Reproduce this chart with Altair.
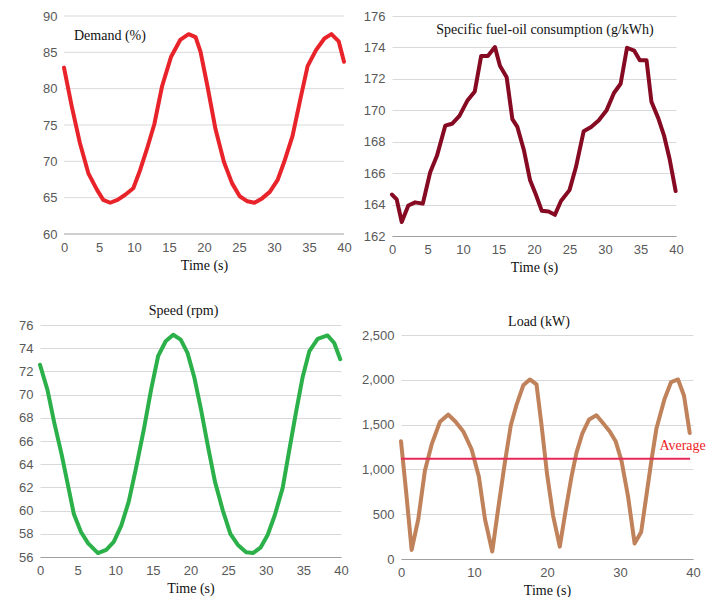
import altair as alt
import pandas as pd

# ---------------- data ----------------
demand_t = [0, 1.1, 2.25, 3.5, 4.7, 5.6, 6.6, 7.65, 8.75, 9.9, 10.8, 11.85, 12.9, 14, 15.3,
            16.6, 17.8, 18.8, 19.5, 20.5, 21.65, 22.85, 24, 25.1, 26.2, 27.2, 28.3, 29.4,
            30.5, 31.45, 32.65, 33.75, 34.8, 36, 37.2, 38.2, 39.25, 40]
demand_v = [82.9, 77.6, 72.6, 68.3, 66.1, 64.7, 64.3, 64.7, 65.4, 66.3, 68.6, 71.7, 75.1,
            80.3, 84.4, 86.7, 87.5, 87.1, 85.1, 80.3, 74.4, 69.9, 67.0, 65.2, 64.5, 64.3,
            64.9, 65.8, 67.4, 69.9, 73.5, 78.5, 83.1, 85.3, 86.9, 87.5, 86.5, 83.7]

sfoc_t = [0, 0.66, 1.37, 2.3, 3.26, 4.34, 5.38, 6.33, 7.5, 8.45, 9.5, 10.6, 11.66, 12.56,
          13.5, 14.5, 15.2, 16.15, 16.95, 17.66, 18.6, 19.45, 20.26, 21.1, 22.05, 22.95,
          23.8, 25, 25.9, 27, 28.05, 29.1, 30.2, 31.26, 32.2, 33.1, 34.1, 34.9, 35.85,
          36.54, 37.5, 38.34, 39.1, 39.95]
sfoc_v = [164.64, 164.33, 162.89, 163.94, 164.14, 164.06, 166.06, 167.1, 169.02, 169.14,
          169.64, 170.6, 171.2, 173.46, 173.46, 174.02, 172.83, 172.1, 169.44, 168.94,
          167.42, 165.54, 164.64, 163.6, 163.56, 163.35, 164.23, 164.92, 166.37, 168.67,
          168.94, 169.35, 169.98, 171.1, 171.69, 173.98, 173.8, 173.19, 173.19, 170.54,
          169.5, 168.35, 166.9, 164.86]

speed_t = [0, 1.0, 1.9, 2.9, 3.7, 4.5, 5.45, 6.4, 7.7, 8.8, 9.8, 10.8, 11.8, 12.75, 13.8,
           14.75, 15.7, 16.7, 17.7, 18.7, 19.6, 20.5, 21.4, 22.3, 23.25, 24.3, 25.3, 26.3,
           27.4, 28.3, 29.3, 30.25, 31.2, 32.25, 33.15, 34.0, 34.9, 35.8, 36.9, 38.2, 39.1,
           39.9]
speed_v = [72.57, 70.38, 67.57, 64.76, 62.24, 59.7, 58.16, 57.18, 56.34, 56.62, 57.3, 58.7,
           60.8, 63.64, 67.0, 70.38, 73.33, 74.6, 75.16, 74.74, 73.6, 71.5, 68.7, 65.6, 62.5,
           60.0, 58.0, 57.04, 56.4, 56.34, 56.8, 57.9, 59.6, 61.96, 65.3, 68.4, 71.5, 73.75,
           74.8, 75.1, 74.45, 73.05]

load_t = [0, 0.7, 1.46, 2.37, 3.28, 4.2, 5.34, 6.48, 7.48, 8.53, 9.67, 10.67, 11.5, 12.5,
          13.3, 14.2, 15.05, 15.8, 16.75, 17.65, 18.56, 19.25, 20.0, 20.84, 21.75, 22.58,
          23.35, 24.04, 24.86, 25.77, 26.77, 27.69, 28.6, 29.4, 30.2, 31.1, 32.0, 32.9,
          33.6, 34.3, 35.0, 36.1, 37.0, 37.95, 38.77, 39.55]
load_v = [1315, 750, 101, 446, 989, 1279, 1532, 1612, 1532, 1424, 1225, 917, 446, 83, 554,
          1062, 1496, 1714, 1938, 2004, 1949, 1496, 953, 482, 138, 554, 917, 1188, 1406,
          1558, 1605, 1514, 1424, 1315, 1098, 699, 174, 301, 699, 1098, 1460, 1786, 1975,
          2004, 1822, 1406]

load_average = 1120
average_span = [0, 39.6]
average_label_x = 35.4

x_ticks = [0, 5, 10, 15, 20, 25, 30, 35, 40]
demand_ticks = [60, 65, 70, 75, 80, 85, 90]
sfoc_ticks = [162, 164, 166, 168, 170, 172, 174, 176]
speed_ticks = [56, 58, 60, 62, 64, 66, 68, 70, 72, 74, 76]
load_ticks = [0, 500, 1000, 1500, 2000, 2500]

SERIF = "Liberation Serif"
SANS = "Liberation Sans"
GRID = "#D9D9D9"
BASE = "#A0A0A0"

# layout constants (pixels)
P1_W, P1_H, P1_SHIFT = 280, 218, 24   # panel 1 sits 24px further right than panel 3
P2_W, P2_H = 284, 220
P3_W, P3_H = 301, 232
P4_W, P4_H, P4_TOP_GAP = 292, 234, 10  # plot box starts 10px above the 2,500 gridline

X_LABEL_PAD, X_TITLE_PAD = 7, 4


def x_axis(**kw):
    return alt.Axis(values=x_ticks, title="Time (s)", grid=False, ticks=False,
                    labelPadding=X_LABEL_PAD, labelFlush=False,
                    titlePadding=X_TITLE_PAD, **kw)


def base_line(t, v, color, ydom, yticks, yfmt=None):
    df = pd.DataFrame({"t": t, "v": v})
    yaxis_kw = dict(values=yticks, title=None, grid=True, ticks=False, domain=False,
                    labelPadding=7)
    if yfmt:
        yaxis_kw["format"] = yfmt
    return alt.Chart(df).mark_line(color=color, strokeWidth=4, strokeJoin="round",
                                   strokeCap="round").encode(
        x=alt.X("t:Q", scale=alt.Scale(domain=[0, 40], nice=False),
                axis=x_axis(domain=True, domainColor=BASE)),
        y=alt.Y("v:Q", scale=alt.Scale(domain=ydom, nice=False, zero=False),
                axis=alt.Axis(**yaxis_kw)),
    )


def label_text(text, x, y, align="center", color="#111111"):
    return alt.Chart(pd.DataFrame({"s": [text]})).mark_text(
        font=SERIF, fontSize=14, color=color, align=align, baseline="middle"
    ).encode(text="s:N", x=alt.value(x), y=alt.value(y))


# Panel 1: Demand. Its plot box starts at panel 3's left edge; the time scale is
# widened on the left so t=0 lands P1_SHIFT px inside, and its gridlines are drawn
# from t=0 to t=40 only.
x_lo = -40 * P1_SHIFT / P1_W
x1_scale = alt.Scale(domain=[x_lo, 40], nice=False)
y1_scale = alt.Scale(domain=[60, 90], nice=False, zero=False)
x1_axis = x_axis(domain=False, titleX=P1_SHIFT + P1_W / 2)
y1_axis = alt.Axis(values=demand_ticks, title=None, grid=False, ticks=False,
                   domain=False, labelPadding=7, offset=-P1_SHIFT)

p1_df = pd.DataFrame({"t": demand_t, "v": demand_v})
grid1_df = pd.DataFrame({
    "t": [0] * len(demand_ticks),
    "t_end": [40] * len(demand_ticks),
    "v": demand_ticks,
    "c": [BASE] + [GRID] * (len(demand_ticks) - 1),
})
p1_grid = alt.Chart(grid1_df).mark_rule(strokeWidth=1).encode(
    x=alt.X("t:Q", scale=x1_scale, axis=x1_axis), x2="t_end:Q",
    y=alt.Y("v:Q", scale=y1_scale, axis=y1_axis),
    color=alt.Color("c:N", scale=None))
p1_line = alt.Chart(p1_df).mark_line(color="#E8232A", strokeWidth=4, strokeJoin="round",
                                     strokeCap="round").encode(
    x=alt.X("t:Q", scale=x1_scale, axis=x1_axis),
    y=alt.Y("v:Q", scale=y1_scale, axis=y1_axis),
)
p1 = alt.layer(p1_grid, p1_line,
               label_text("Demand (%)", P1_SHIFT + 10, 20, align="left")
               ).properties(width=P1_W + P1_SHIFT, height=P1_H)

# Panel 2: SFOC
p2_line = base_line(sfoc_t, sfoc_v, "#850A22", [162, 176], sfoc_ticks)
p2 = alt.layer(p2_line, label_text("Specific fuel-oil consumption (g/kWh)", 153, 14)
               ).properties(width=P2_W, height=P2_H)

# Panel 3: Speed
p3_line = base_line(speed_t, speed_v, "#2BB04A", [56, 76], speed_ticks)
p3 = alt.layer(p3_line).properties(
    width=P3_W, height=P3_H,
    title=alt.TitleParams("Speed (rpm)", font=SERIF, fontSize=14, fontWeight="normal",
                          color="#111111", anchor="middle", frame="group", dx=-7,
                          offset=1))

# Panel 4: Load
load_top = 2500 * P4_H / (P4_H - P4_TOP_GAP)
p4_line = base_line(load_t, load_v, "#C0825A", [0, load_top], load_ticks, yfmt=",.0f")
avg_df = pd.DataFrame({"x0": [average_span[0]], "x1": [average_span[1]],
                       "xl": [average_label_x],
                       "y": [load_average], "label": ["Average"]})
p4_rule = alt.Chart(avg_df).mark_rule(color="#E8285A", strokeWidth=2).encode(
    x="x0:Q", x2="x1:Q", y="y:Q")
p4_label = alt.Chart(avg_df).mark_text(
    font=SERIF, fontSize=14, color="#EE1C25", align="left", baseline="middle", dy=-13
).encode(x="xl:Q", text="label:N", y="y:Q")
p4 = alt.layer(p4_line, p4_rule, p4_label, label_text("Load (kW)", 138, -3)
               ).properties(width=P4_W, height=P4_H)

row1 = alt.hconcat(p1, p2, spacing=11)
row2 = alt.hconcat(p3, p4, spacing=12)

chart = alt.vconcat(row1, row2, spacing=30).properties(
    padding={"left": 10, "top": 2, "right": 0, "bottom": 0},
    background="white",
).configure_view(stroke=None).configure_axis(
    labelFont=SANS, labelFontSize=13, labelColor="#595959",
    titleFont=SERIF, titleFontSize=14, titleFontWeight="normal", titleColor="#111111",
    gridColor=GRID, gridWidth=1,
)

chart.save("out.html", embed_options={"renderer": "svg", "actions": False})
